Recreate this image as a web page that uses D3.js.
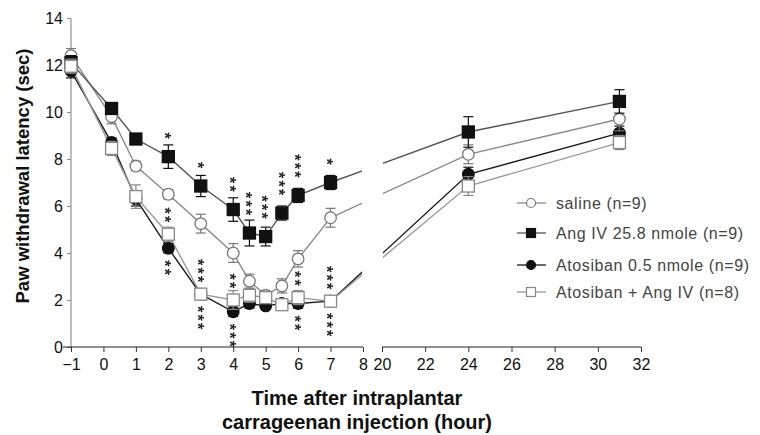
<!DOCTYPE html>
<html>
<head>
    <meta charset="utf-8">
    <style>
        body { margin: 0; padding: 0; overflow: hidden; background-color: #fff; }
        text { font-family: "Liberation Sans", Arial, sans-serif; }
        .tick text { font-size: 16px; fill: #111; }
    </style>
</head>
<body>
    <div id="chart"></div>
    <script src="https://d3js.org/d3.v7.min.js"></script>
    <script>
        // time points (hour) and mean latencies (sec)
        var times = [-1, 0.25, 1, 2, 3, 4, 4.5, 5, 5.5, 6, 7, 24, 31];
        var saline   = [12.4, 9.8, 7.7, 6.5, 5.25, 4.0, 2.8, 2.2, 2.6, 3.75, 5.5, 8.2, 9.7];
        var angIV    = [12.1, 10.15, 8.85, 8.1, 6.85, 5.85, 4.85, 4.7, 5.7, 6.45, 7.0, 9.15, 10.45];
        var atosiban = [11.75, 8.7, 6.3, 4.2, 2.25, 1.5, 1.85, 1.75, 1.85, 1.85, 1.95, 7.35, 9.1];
        var combo    = [11.95, 8.45, 6.4, 4.8, 2.25, 2.0, 2.2, 2.1, 1.8, 2.1, 1.95, 6.85, 8.7];

        // SEM
        var salineErr   = [0.3, 0.3, 0.2, 0.2, 0.4, 0.4, 0.3, 0.2, 0.3, 0.35, 0.4, 0.4, 0.5];
        var angIVErr    = [0.3, 0.25, 0.2, 0.5, 0.45, 0.5, 0.55, 0.4, 0.3, 0.3, 0.3, 0.65, 0.5];
        var atosibanErr = [0.3, 0.2, 0.3, 0.2, 0.2, 0.2, 0.2, 0.15, 0.2, 0.2, 0.2, 0.3, 0.3];
        var comboErr    = [0.3, 0.3, 0.5, 0.3, 0.2, 0.4, 0.3, 0.2, 0.2, 0.3, 0.2, 0.4, 0.3];

        // significance marks: [time, number of stars]
        var sigAngIV = [[2, 1], [3, 1], [4, 2], [4.5, 3], [5, 3], [5.5, 3], [6, 3], [7, 1]];
        var sigComboAbove = [[2, 2], [3, 3], [4, 2], [6, 2], [7, 3]];
        var sigAtosibanBelow = [[2, 2], [3, 3], [4, 3], [6, 2], [7, 3]];

        var xTicks1 = [-1, 0, 1, 2, 3, 4, 5, 6, 7, 8];
        var xTicks2 = [20, 22, 24, 26, 28, 30, 32];
        var yTicks = [0, 2, 4, 6, 8, 10, 12, 14];

        var legendLabels = ["saline (n=9)", "Ang IV 25.8 nmole (n=9)", "Atosiban 0.5 nmole (n=9)", "Atosiban + Ang IV (n=8)"];

        var width = 760, height = 435;

        var svg = d3.select("#chart").append("svg")
            .attr("width", width)
            .attr("height", height);

        // broken x axis: -1..8 and 20..32
        var x = d3.scaleLinear().domain([-1, 8, 20, 32]).range([71, 363, 382, 641]);
        var y = d3.scaleLinear().domain([0, 14]).range([347, 18]);

        var defs = svg.append("defs");
        defs.append("clipPath").attr("id", "seg1").append("rect")
            .attr("x", 0).attr("y", 0).attr("width", x(8) - 1).attr("height", height);
        defs.append("clipPath").attr("id", "seg2").append("rect")
            .attr("x", x(20) + 1).attr("y", 0).attr("width", width).attr("height", height);

        var series = [
            { name: legendLabels[0], values: saline, err: salineErr, line: "#8c8c8c", stroke: "#777", fill: "#fff", shape: "circle", order: 1 },
            { name: legendLabels[1], values: angIV, err: angIVErr, line: "#555", stroke: "#111", fill: "#111", shape: "square", order: 2 },
            { name: legendLabels[2], values: atosiban, err: atosibanErr, line: "#1a1a1a", stroke: "#111", fill: "#111", shape: "circle", order: 0 },
            { name: legendLabels[3], values: combo, err: comboErr, line: "#9a9a9a", stroke: "#888", fill: "#fff", shape: "square", order: 3 }
        ];

        // axes
        var yAxis = svg.append("g")
            .attr("transform", "translate(" + x(-1) + ",0)")
            .call(d3.axisLeft(y).tickValues(yTicks).tickSize(4).tickPadding(4));
        yAxis.select(".domain").remove();
        yAxis.selectAll(".tick line").attr("stroke", "#888");
        svg.append("line")
            .attr("x1", x(-1)).attr("x2", x(-1))
            .attr("y1", y(14)).attr("y2", y(0))
            .attr("stroke", "#999").attr("stroke-width", 1.3);

        [xTicks1, xTicks2].forEach(function(ticks) {
            var ax = svg.append("g")
                .attr("transform", "translate(0," + y(0) + ")")
                .call(d3.axisBottom(x).tickValues(ticks).tickSize(5).tickPadding(7).tickFormat(d3.format("d")));
            ax.select(".domain").remove();
            ax.selectAll(".tick line").attr("stroke", "#333");
            svg.append("line")
                .attr("x1", x(ticks[0]) - (ticks[0] === -1 ? 8 : 0)).attr("x2", x(ticks[ticks.length - 1]))
                .attr("y1", y(0)).attr("y2", y(0))
                .attr("stroke", "#222").attr("stroke-width", 1.2);
        });
        svg.selectAll(".tick text").attr("font-family", "Liberation Sans, Arial, sans-serif");

        // axis titles
        svg.append("text")
            .attr("transform", "translate(29,176) rotate(-90)")
            .attr("text-anchor", "middle")
            .attr("font-size", 18.5)
            .attr("font-weight", "bold")
            .attr("fill", "#111")
            .text("Paw withdrawal latency (sec)");

        svg.append("text")
            .attr("x", 357).attr("y", 405)
            .attr("text-anchor", "middle")
            .attr("font-size", 20)
            .attr("font-weight", "bold")
            .attr("fill", "#111")
            .text("Time after intraplantar");
        svg.append("text")
            .attr("x", 357).attr("y", 429)
            .attr("text-anchor", "middle")
            .attr("font-size", 20)
            .attr("font-weight", "bold")
            .attr("fill", "#111")
            .text("carrageenan injection (hour)");

        // lines, drawn once per axis segment
        var lineGen = d3.line()
            .x(function(d) { return x(d[0]); })
            .y(function(d) { return y(d[1]); });

        ["seg1", "seg2"].forEach(function(clip) {
            var g = svg.append("g").attr("clip-path", "url(#" + clip + ")");
            series.forEach(function(s) {
                g.append("path")
                    .datum(times.map(function(t, i) { return [t, s.values[i]]; }))
                    .attr("d", lineGen)
                    .attr("fill", "none")
                    .attr("stroke", s.line)
                    .attr("stroke-width", 1.4);
            });
        });

        function drawMarker(g, s, cx, cy) {
            if (s.shape === "circle") {
                g.append("circle")
                    .attr("cx", cx).attr("cy", cy).attr("r", 5.8)
                    .attr("fill", s.fill).attr("stroke", s.stroke).attr("stroke-width", 1.3);
            } else {
                g.append("rect")
                    .attr("x", cx - 6).attr("y", cy - 6)
                    .attr("width", 12).attr("height", 12)
                    .attr("fill", s.fill).attr("stroke", s.stroke).attr("stroke-width", 1.3);
            }
        }

        // error bars and markers
        series.slice().sort(function(a, b) { return a.order - b.order; }).forEach(function(s) {
            var g = svg.append("g");
            times.forEach(function(t, i) {
                var cx = x(t), v = s.values[i], e = s.err[i];
                g.append("line")
                    .attr("x1", cx).attr("x2", cx)
                    .attr("y1", y(v - e)).attr("y2", y(v + e))
                    .attr("stroke", s.stroke).attr("stroke-width", 1.2);
                [v - e, v + e].forEach(function(yy) {
                    g.append("line")
                        .attr("x1", cx - 5).attr("x2", cx + 5)
                        .attr("y1", y(yy)).attr("y2", y(yy))
                        .attr("stroke", s.stroke).attr("stroke-width", 1.2);
                });
            });
            times.forEach(function(t, i) {
                drawMarker(g, s, x(t), y(s.values[i]));
            });
        });

        // significance stars: one "***" text per point, turned to run downwards
        var starSize = 16, starGap = 8.5;
        var starAdvance = starSize * 0.389;
        var starLayer = svg.append("g").attr("opacity", 0.99);
        function valueAt(arr, t) { return arr[times.indexOf(t)]; }
        function drawStars(list, arr, offset, dir) {
            list.forEach(function(d) {
                var cx = x(d[0]), cy = y(valueAt(arr, d[0]));
                var mid = cy + dir * (offset + (d[1] - 1) * starGap / 2);
                var ls = starGap - starAdvance;
                starLayer.append("text")
                    .attr("transform", "translate(" + cx + "," + mid + ") rotate(90)")
                    .attr("x", ls / 2)
                    .attr("y", starSize * 0.575)
                    .attr("text-anchor", "middle")
                    .attr("letter-spacing", ls)
                    .attr("font-size", starSize)
                    .attr("font-weight", "bold")
                    .attr("fill", "#222")
                    .text(d3.range(d[1]).map(function() { return "*"; }).join(""));
            });
        }
        drawStars(sigAngIV, angIV, 21, -1);
        drawStars(sigComboAbove, combo, 15, -1);
        drawStars(sigAtosibanBelow, atosiban, 15, 1);

        // legend
        var legend = svg.append("g");
        var legendY = [203, 233, 265, 292];
        series.forEach(function(s, i) {
            var ly = legendY[i];
            legend.append("line")
                .attr("x1", 517).attr("x2", 546)
                .attr("y1", ly).attr("y2", ly)
                .attr("stroke", s.line).attr("stroke-width", 1.3);
            if (s.shape === "circle") {
                legend.append("circle").attr("cx", 531).attr("cy", ly).attr("r", 4.5)
                    .attr("fill", s.fill).attr("stroke", s.stroke).attr("stroke-width", 1.2);
            } else {
                legend.append("rect").attr("x", 526.5).attr("y", ly - 4.5).attr("width", 9).attr("height", 9)
                    .attr("fill", s.fill).attr("stroke", s.stroke).attr("stroke-width", 1.2);
            }
            legend.append("text")
                .attr("x", 556).attr("y", ly + 5.5)
                .attr("font-size", 16)
                .attr("letter-spacing", 0.6)
                .attr("fill", "#444")
                .text(s.name);
        });
    </script>
</body>
</html>
